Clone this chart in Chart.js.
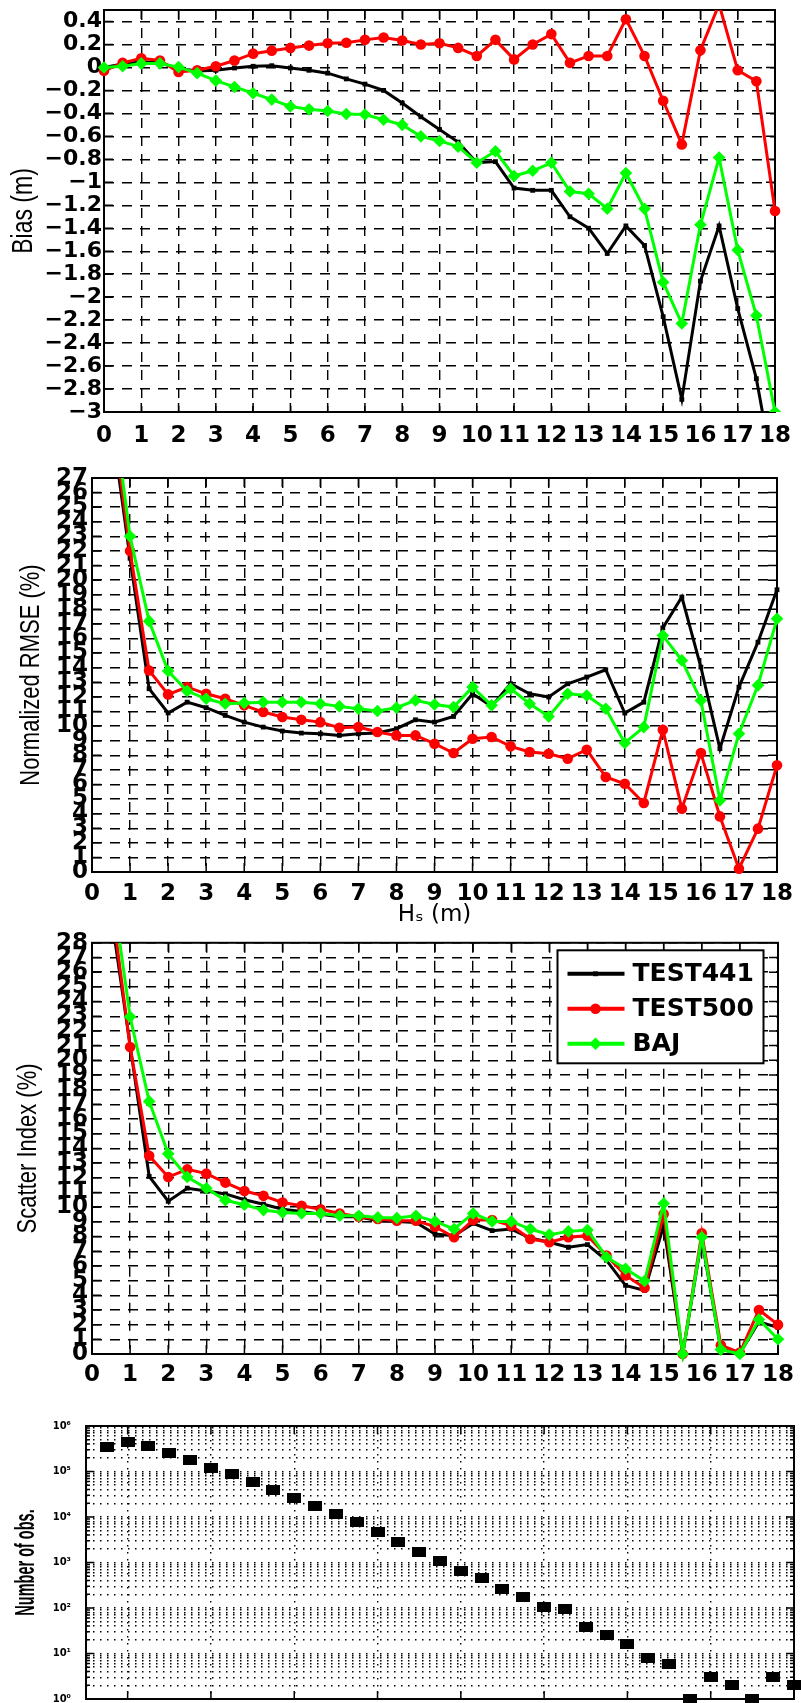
<!DOCTYPE html>
<html lang="en">
<head>
<meta charset="UTF-8" />
<title>Hs statistics</title>
<script src="https://cdn.jsdelivr.net/npm/chart.js"></script>
<style>
  html, body { margin: 0; padding: 0; background: #fff; }
  body { width: 801px; height: 1703px; position: relative; overflow: hidden; }
  canvas { position: absolute; left: 0; }
</style>
</head>
<body>
<canvas id="biasChart" width="801" height="500" style="top:-20px"></canvas>
<canvas id="rmseChart" width="801" height="480" style="top:455px"></canvas>
<canvas id="siChart" width="801" height="470" style="top:925px"></canvas>
<canvas id="obsChart" width="801" height="320" style="top:1400px"></canvas>

<script>
  // wave height bins (m)
  const hs = [0, 0.5, 1, 1.5, 2, 2.5, 3, 3.5, 4, 4.5, 5, 5.5, 6, 6.5, 7, 7.5, 8, 8.5, 9,
              9.5, 10, 10.5, 11, 11.5, 12, 12.5, 13, 13.5, 14, 14.5, 15, 15.5, 16, 16.5, 17, 17.5, 18];
  const seriesNames = ["TEST441", "TEST500", "BAJ"];

  // Bias (m)
  const biasTest441 = [0, 0.03, 0.05, 0.04, -0.01, -0.03, -0.025, -0.005, 0.01, 0.015, -0.005, -0.025, -0.05,
    -0.1, -0.145, -0.2, -0.31, -0.43, -0.54, -0.65, -0.83, -0.82, -1.05, -1.07, -1.07, -1.3, -1.4, -1.62,
    -1.38, -1.55, -2.17, -2.89, -1.86, -1.38, -2.1, -2.71, -3.6];
  const biasTest500 = [-0.03, 0.04, 0.08, 0.06, -0.04, -0.025, 0.01, 0.06, 0.12, 0.146, 0.17, 0.19, 0.21,
    0.215, 0.24, 0.26, 0.235, 0.2, 0.21, 0.17, 0.1, 0.24, 0.07, 0.2, 0.29, 0.04, 0.1, 0.1, 0.42, 0.1,
    -0.29, -0.67, 0.15, 0.55, -0.025, -0.12, -1.25];
  const biasBaj = [0, 0.01, 0.035, 0.035, 0.003, -0.05, -0.115, -0.17, -0.225, -0.28, -0.34, -0.365, -0.38,
    -0.405, -0.41, -0.455, -0.5, -0.6, -0.64, -0.69, -0.83, -0.73, -0.945, -0.9, -0.83, -1.08, -1.1, -1.23,
    -0.92, -1.23, -1.87, -2.23, -1.37, -0.785, -1.59, -2.16, -3.0];

  // Normalized RMSE (%)
  const rmseTest441 = [null, 31, 21.5, 12.56, 10.9, 11.64, 11.26, 10.73, 10.27, 9.93, 9.66, 9.52, 9.47, 9.36,
    9.47, 9.52, 9.82, 10.43, 10.27, 10.66, 12.21, 11.35, 12.9, 12.21, 11.99, 12.9, 13.36, 13.86, 10.89,
    11.64, 16.73, 18.84, 14.04, 8.45, 12.67, 15.75, 19.34];
  const rmseTest500 = [null, 32, 22.0, 13.81, 12.17, 12.67, 12.21, 11.87, 11.42, 10.96, 10.62, 10.43, 10.27,
    9.89, 9.93, 9.59, 9.36, 9.36, 8.79, 8.15, 9.13, 9.25, 8.61, 8.22, 8.1, 7.76, 8.38, 6.51, 6.05, 4.73,
    9.75, 4.34, 8.15, 3.81, 0.23, 2.97, 7.31];
  const rmseBaj = [null, 33, 23.0, 17.19, 13.77, 12.4, 11.87, 11.53, 11.58, 11.64, 11.64, 11.64, 11.53, 11.35,
    11.19, 11.03, 11.26, 11.76, 11.48, 11.3, 12.67, 11.42, 12.56, 11.53, 10.66, 12.21, 12.1, 11.19, 8.84,
    9.93, 16.21, 14.5, 11.76, 4.91, 9.47, 12.79, 17.35];

  // Scatter index (%)
  const siTest441 = [null, 30, 21, 12.1, 10.4, 11.29, 11.1, 10.9, 10.5, 10.2, 9.86, 9.7, 9.52, 9.35, 9.35,
    9.07, 9.03, 8.96, 8.17, 8.06, 8.89, 8.4, 8.51, 7.9, 7.61, 7.27, 7.45, 6.37, 4.67, 4.33, 8.74, 0, 7.83,
    0.3, 0.05, 2.2, 1.8];
  const siTest500 = [null, 31, 20.9, 13.5, 12.05, 12.57, 12.28, 11.67, 11.1, 10.77, 10.32, 10.09, 9.86, 9.57,
    9.35, 9.19, 9.07, 9.07, 8.67, 7.95, 9.12, 9.12, 8.74, 7.83, 7.61, 7.95, 8.06, 6.7, 5.35, 4.51, 9.53, 0,
    8.22, 0.6, 0.1, 3.0, 2.0];
  const siBaj = [null, 32.3, 22.96, 17.2, 13.63, 12.05, 11.29, 10.47, 10.16, 9.8, 9.64, 9.57, 9.57, 9.41,
    9.41, 9.3, 9.26, 9.41, 9.03, 8.51, 9.57, 9.03, 9.03, 8.51, 8.13, 8.35, 8.44, 6.59, 5.8, 4.97, 10.25, 0,
    7.95, 0.3, 0, 2.35, 1.0];

  // Number of observations
  const obsHs = [0.5, 1, 1.5, 2, 2.5, 3, 3.5, 4, 4.5, 5, 5.5, 6, 6.5, 7, 7.5, 8, 8.5, 9, 9.5, 10,
                 10.5, 11, 11.5, 12, 12.5, 13, 13.5, 14, 14.5, 15, 15.5, 16, 16.5, 17];
  const obsCount = [346000, 450000, 360000, 250000, 180000, 120000, 86000, 59000, 39000, 26000, 17400, 11700,
    7600, 4800, 2800, 1730, 1060, 640, 460, 264, 175, 105, 93, 38, 25, 16, 8, 6, 1, 3, 2, 1, 3, 2];
  const obsDecades = [0, 1, 2, 3, 4, 5, 6];
  const obsGridX = [1, 3, 5, 7, 9, 11, 13, 15];

  Chart.defaults.font.family = "'DejaVu Sans', sans-serif";
  Chart.defaults.color = "#000";

  const boldTick = (size) => ({ family: "'DejaVu Sans', sans-serif", weight: "bold", size: size });
  const supers = ["\u2070", "\u00b9", "\u00b2", "\u00b3", "\u2074", "\u2075", "\u2076"];

  const styles = [
    { borderColor: "#000000", backgroundColor: "#000000", pointStyle: "rect", pointRadius: 3.4, order: 3 },
    { borderColor: "#ff0000", backgroundColor: "#ff0000", pointStyle: "circle", pointRadius: 5.3, order: 2 },
    { borderColor: "#00ff00", backgroundColor: "#00ff00", pointStyle: "rectRot", pointRadius: 6.3, order: 1 }
  ];

  function lineSets(arrays, clip) {
    return arrays.map((vals, i) => ({
      label: seriesNames[i],
      data: hs.map((x, j) => ({ x: x, y: vals[j] })),
      borderWidth: 3,
      pointBorderWidth: 0,
      pointBackgroundColor: styles[i].backgroundColor,
      tension: 0,
      clip: clip,
      ...styles[i]
    }));
  }

  function drawMark(ctx, style, r, x, y) {
    ctx.beginPath();
    if (style === "circle") {
      ctx.arc(x, y, r, 0, Math.PI * 2);
    } else if (style === "rectRot") {
      ctx.moveTo(x, y - r); ctx.lineTo(x + r, y); ctx.lineTo(x, y + r); ctx.lineTo(x - r, y);
      ctx.closePath();
    } else {
      const s = r * Math.SQRT1_2;
      ctx.rect(x - s, y - s, 2 * s, 2 * s);
    }
    ctx.fill();
  }

  // box round the axes, with matlab style inner ticks
  const frame = {
    id: "frame",
    beforeDatasetsDraw(chart, args, opts) {
      const { ctx, chartArea: a, scales } = chart;
      ctx.save();
      ctx.strokeStyle = "#000";
      ctx.lineWidth = 1.5;
      ctx.beginPath();
      scales.x.ticks.forEach(t => {
        const px = scales.x.getPixelForValue(t.value);
        ctx.moveTo(px, a.bottom); ctx.lineTo(px, a.bottom - opts.len);
        ctx.moveTo(px, a.top); ctx.lineTo(px, a.top + opts.len);
      });
      scales.y.ticks.forEach(t => {
        const py = scales.y.getPixelForValue(t.value);
        let len = opts.len;
        if (opts.log) len = Number.isInteger(Math.log10(t.value)) ? opts.len : opts.len / 2;
        ctx.moveTo(a.left, py); ctx.lineTo(a.left + len, py);
        ctx.moveTo(a.right, py); ctx.lineTo(a.right - len, py);
      });
      ctx.stroke();
      ctx.lineWidth = 2;
      ctx.strokeRect(a.left, a.top, a.right - a.left, a.bottom - a.top);
      ctx.restore();
    }
  };

  // rotated y label, stretched across like the printed figure
  const yTitle = {
    id: "yTitle",
    afterDraw(chart, args, o) {
      const { ctx, chartArea: a } = chart;
      ctx.save();
      ctx.translate(o.x, (a.top + a.bottom) / 2);
      ctx.rotate(-Math.PI / 2);
      ctx.scale(1, o.stretch);
      ctx.font = o.font;
      ctx.fillStyle = "#000";
      ctx.textAlign = "center";
      ctx.textBaseline = "middle";
      ctx.fillText(o.text, 0, 0);
      ctx.restore();
    }
  };

  // boxed legend inside the axes (top right)
  const boxLegend = {
    id: "boxLegend",
    afterDatasetsDraw(chart) {
      const { ctx, chartArea: a } = chart;
      const w = 206, h = 113;
      const x0 = a.right - 14.5 - w, y0 = a.top + 7.5;
      ctx.save();
      ctx.fillStyle = "#fff";
      ctx.fillRect(x0, y0, w, h);
      ctx.strokeStyle = "#000";
      ctx.lineWidth = 2;
      ctx.strokeRect(x0, y0, w, h);
      chart.data.datasets.forEach((ds, i) => {
        const y = y0 + 23.5 + i * 35;
        ctx.strokeStyle = ds.borderColor;
        ctx.lineWidth = 4;
        ctx.beginPath(); ctx.moveTo(x0 + 10, y); ctx.lineTo(x0 + 67, y); ctx.stroke();
        ctx.fillStyle = ds.backgroundColor;
        drawMark(ctx, ds.pointStyle, ds.pointRadius, x0 + 38, y);
        ctx.fillStyle = "#000";
        ctx.font = "bold 25px 'DejaVu Sans', sans-serif";
        ctx.textBaseline = "middle";
        ctx.textAlign = "left";
        ctx.fillText(ds.label, x0 + 75, y + 1);
      });
      ctx.restore();
    }
  };

  const gridDash = { display: false, dash: [10, 8] };
  const gridLine = { color: "#000", lineWidth: 1.4, drawTicks: false };

  function hsAxis(height, pad, title) {
    return {
      type: "linear", min: 0, max: 18,
      grid: gridLine, border: gridDash,
      ticks: { stepSize: 1, autoSkip: false, maxRotation: 0, padding: pad, font: boldTick(23) },
      title: title ? { display: true, text: title, font: { family: "'DejaVu Sans', sans-serif", size: 23 },
        padding: { top: 0, bottom: 6 } } : { display: false },
      afterFit(s) { s.height = height; }
    };
  }

  function valueAxis(opt) {
    return {
      type: "linear", min: opt.min, max: opt.max,
      grid: gridLine, border: gridDash,
      ticks: { stepSize: opt.step, autoSkip: false, includeBounds: false, padding: opt.pad,
        font: boldTick(opt.font), callback: opt.fmt },
      title: { display: false },
      afterFit(s) { s.width = opt.width; }
    };
  }

  function baseOptions(padTop, padRight, x, y, extra) {
    return {
      responsive: false,
      animation: false,
      events: [],
      layout: { padding: { top: padTop, right: padRight, left: 0, bottom: 0 } },
      scales: { x: x, y: y },
      plugins: Object.assign({ legend: { display: false }, tooltip: { enabled: false } }, extra)
    };
  }

  const fmtBias = v => {
    const r = Math.round(v * 10) / 10;
    return String(r).replace("-", "\u2212");
  };
  const fmtInt = v => String(Math.round(v));
  const titleFace = "'Liberation Sans', Arial, sans-serif";

  // Bias panel
  new Chart(document.getElementById("biasChart"), {
    type: "line",
    data: { datasets: lineSets([biasTest441, biasTest500, biasBaj], { left: 12, right: 12, top: 0, bottom: 0 }) },
    options: baseOptions(30, 18, hsAxis(68, 10),
      valueAxis({ min: -3, max: 0.5, step: 0.2, pad: 2, font: 22, fmt: fmtBias, width: 104 }),
      { frame: { len: 9 },
        yTitle: { text: "Bias (m)", x: 24, stretch: 1.3, font: "23px " + titleFace } }),
    plugins: [frame, yTitle]
  });

  // Normalized RMSE panel
  new Chart(document.getElementById("rmseChart"), {
    type: "line",
    data: { datasets: lineSets([rmseTest441, rmseTest500, rmseBaj], { left: 12, right: 12, top: 0, bottom: 8 }) },
    options: baseOptions(23, 19, hsAxis(63, 8, "H\u209b (m)"),
      valueAxis({ min: 0, max: 27, step: 1, pad: 4, font: 23, fmt: fmtInt, width: 92 }),
      { frame: { len: 9 },
        yTitle: { text: "Normalized RMSE (%)", x: 31, stretch: 1.25, font: "22px " + titleFace } }),
    plugins: [frame, yTitle]
  });

  // Scatter index panel
  new Chart(document.getElementById("siChart"), {
    type: "line",
    data: { datasets: lineSets([siTest441, siTest500, siBaj], { left: 12, right: 12, top: 0, bottom: 8 }) },
    options: baseOptions(16, 19, hsAxis(41, 7),
      valueAxis({ min: 0, max: 28, step: 1, pad: 4, font: 23, fmt: fmtInt, width: 92 }),
      { frame: { len: 9 },
        yTitle: { text: "Scatter Index (%)", x: 28, stretch: 1.25, font: "22px " + titleFace } }),
    plugins: [frame, yTitle, boxLegend]
  });

  // Number of observations panel
  const sq = document.createElement("canvas");
  sq.width = 14; sq.height = 10;
  const sqCtx = sq.getContext("2d");
  sqCtx.fillStyle = "#000";
  sqCtx.fillRect(0, 0, 14, 10);

  const dotGrid = { color: "#000", lineWidth: 1.4, drawTicks: false };
  const dotDash = { display: false, dash: [1.5, 5.5] };

  new Chart(document.getElementById("obsChart"), {
    type: "scatter",
    data: {
      datasets: [{
        label: "obs",
        data: obsHs.map((x, i) => ({ x: x, y: obsCount[i] })),
        pointStyle: sq,
        pointRadius: 6,
        clip: false
      }]
    },
    options: baseOptions(26, 3,
      {
        type: "linear", min: 0, max: 17,
        grid: dotGrid, border: dotDash,
        ticks: { display: false },
        afterBuildTicks(s) { s.ticks = obsGridX.map(v => ({ value: v })); },
        afterFit(s) { s.height = 20; }
      },
      {
        type: "logarithmic", min: 1, max: 1e6,
        grid: dotGrid, border: dotDash,
        ticks: {
          autoSkip: false, padding: 15, font: boldTick(10),
          callback: v => {
            const e = Math.log10(v);
            return Number.isInteger(Math.round(e * 1e6) / 1e6) ? "10" + supers[Math.round(e)] : "";
          }
        },
        afterBuildTicks(s) {
          const t = [];
          obsDecades.forEach(d => {
            const base = Math.pow(10, d);
            const top = d === obsDecades[obsDecades.length - 1] ? 1 : 9;
            for (let k = 1; k <= top; k++) t.push({ value: k * base });
          });
          s.ticks = t;
        },
        title: { display: false },
        afterFit(s) { s.width = 86; }
      },
      { frame: { len: 8, log: true },
        yTitle: { text: "Number of obs.", x: 26, stretch: 1.9, font: "bold 14.5px " + titleFace } }),
    plugins: [frame, yTitle]
  });
</script>
</body>
</html>
